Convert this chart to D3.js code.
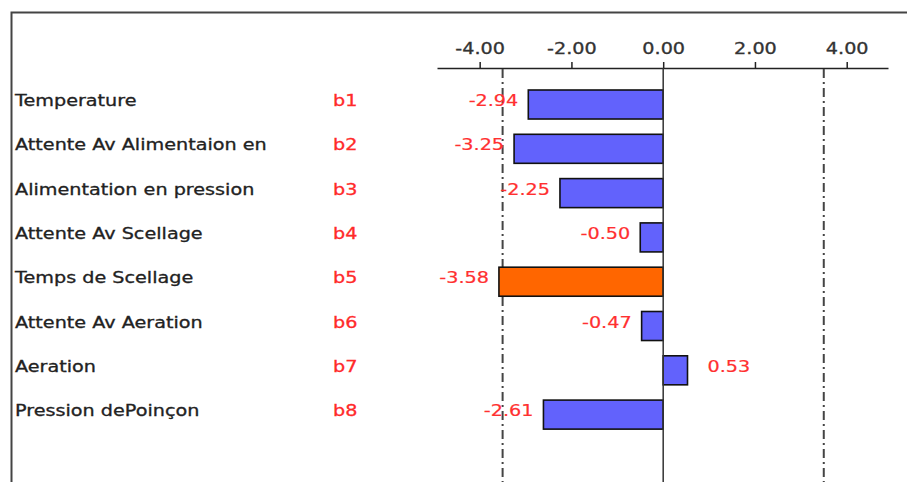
<!DOCTYPE html>
<html>
<head>
<meta charset="utf-8">
<script src="https://cdn.jsdelivr.net/npm/d3@7/dist/d3.min.js"></script>
<style>
  html, body { margin: 0; padding: 0; background: #fff; }
  svg { display: block; }
  text { font-family: "DejaVu Sans", Verdana, sans-serif; }
</style>
</head>
<body>
<svg id="chart" width="907" height="482"></svg>
<script>
// Effect names, coefficient codes and estimated effects
const factors = [
  "Temperature",
  "Attente Av Alimentaion en",
  "Alimentation en pression",
  "Attente Av Scellage",
  "Temps de Scellage",
  "Attente Av Aeration",
  "Aeration",
  "Pression dePoinçon"
];
const codes = ["b1", "b2", "b3", "b4", "b5", "b6", "b7", "b8"];
const effects = [-2.94, -3.25, -2.25, -0.50, -3.58, -0.47, 0.53, -2.61];
const tickValues = [-4, -2, 0, 2, 4];
const limits = [-3.5, 3.5];          // significance limits (dash-dot)
const highlighted = ["b5"];          // effect shown in orange

const W = 907, H = 482;
const svg = d3.select("#chart");
const SX = 1.28;                     // horizontal stretch applied to all text
const FONT = 15;

// two decimals, plain hyphen for negatives
const fmt = v => d3.format(".2f")(v).replace("\u2212", "-");

// frame (top and left edges)
svg.append("path")
  .attr("d", `M11.5,${H} V12.5 H${W}`)
  .attr("fill", "none")
  .attr("stroke", "#444")
  .attr("stroke-width", 2);

const x = d3.scaleLinear().domain([-4.93, 4.9]).range([437, 888]);
const step = 44.3;
const y = d3.scaleBand()
  .domain(codes)
  .range([82.36, 82.36 + step * codes.length])
  .paddingInner(0.345)
  .paddingOuter(0.1725);

const axisY = 68;

// top axis
const axis = svg.append("g")
  .attr("transform", `translate(0,${axisY})`)
  .call(d3.axisTop(x).tickValues(tickValues).tickFormat(fmt)
    .tickSize(6).tickSizeOuter(0).tickPadding(8));
axis.select(".domain").attr("stroke", "#222").attr("stroke-width", 1.5);
axis.selectAll(".tick line").attr("stroke", "#222").attr("stroke-width", 1.5);
axis.selectAll(".tick text")
  .attr("font-size", FONT)
  .attr("font-family", "DejaVu Sans, Verdana, sans-serif")
  .attr("fill", "#333")
  .attr("stroke", "#333")
  .attr("stroke-width", 0.3)
  .attr("transform", `scale(${SX},1)`);

// significance limits
svg.append("g").selectAll("line")
  .data(limits)
  .join("line")
  .attr("x1", d => x(d)).attr("x2", d => x(d))
  .attr("y1", axisY + 1).attr("y2", H)
  .attr("stroke", "#444")
  .attr("stroke-width", 2)
  .attr("stroke-dasharray", "9,4,2,4");

// bars
svg.append("g").selectAll("rect")
  .data(effects)
  .join("rect")
  .attr("x", d => x(Math.min(0, d)))
  .attr("width", d => Math.abs(x(d) - x(0)))
  .attr("y", (d, i) => y(codes[i]))
  .attr("height", y.bandwidth())
  .attr("fill", (d, i) => highlighted.includes(codes[i]) ? "#ff6600" : "#6262fc")
  .attr("stroke", "#111")
  .attr("stroke-width", 1.6);

// zero line
svg.append("line")
  .attr("x1", x(0)).attr("x2", x(0))
  .attr("y1", axisY).attr("y2", H)
  .attr("stroke", "#333")
  .attr("stroke-width", 1.5);

const mid = i => y(codes[i]) + y.bandwidth() / 2;

// factor names
svg.append("g").selectAll("text")
  .data(factors)
  .join("text")
  .attr("transform", (d, i) => `translate(15,${mid(i) + 1.5}) scale(${SX},1)`)
  .attr("font-size", FONT)
  .attr("fill", "#222")
  .attr("stroke", "#222")
  .attr("stroke-width", 0.3)
  .text(d => d);

// coefficient codes
svg.append("g").selectAll("text")
  .data(codes)
  .join("text")
  .attr("transform", (d, i) => `translate(333,${mid(i) + 1.5}) scale(${SX},1)`)
  .attr("font-size", FONT)
  .attr("fill", "#ff2a2a")
  .attr("stroke", "#ff2a2a")
  .attr("stroke-width", 0.3)
  .text(d => d);

// effect values
svg.append("g").selectAll("text")
  .data(effects)
  .join("text")
  .attr("transform", (d, i) => {
    const px = d < 0 ? x(d) - 10 : x(d) + 20;
    return `translate(${px},${mid(i) + 1.5}) scale(${SX},1)`;
  })
  .attr("text-anchor", d => d < 0 ? "end" : "start")
  .attr("font-size", FONT)
  .attr("fill", "#ff3030")
  .attr("stroke", "#ff3030")
  .attr("stroke-width", 0.2)
  .text(d => fmt(d));
</script>
</body>
</html>
